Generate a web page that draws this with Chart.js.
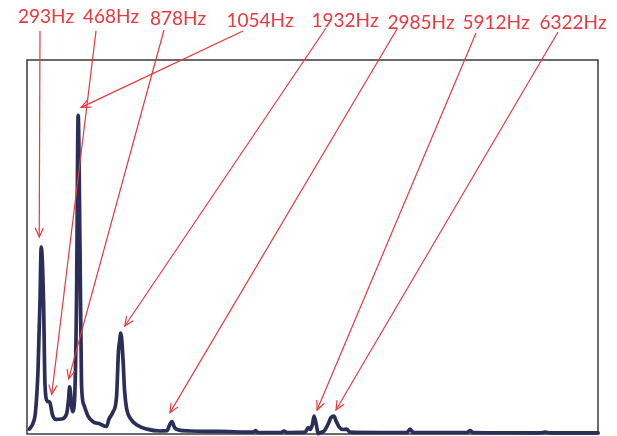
<!DOCTYPE html>
<html>
<head>
<meta charset="utf-8">
<script src="https://cdn.jsdelivr.net/npm/chart.js@4/dist/chart.umd.min.js"></script>
<style>
  html, body { margin: 0; padding: 0; background: #ffffff; }
  #wrap { width: 617px; height: 436px; }
</style>
</head>
<body>
<div id="wrap"><canvas id="spectrum" width="617" height="436"></canvas></div>
<script>
// Frequency (Hz) and relative amplitude of the measured spectrum
const freqs = [50, 124, 175, 227, 268, 293, 340, 371, 418, 468, 525, 597, 711, 814, 855, 878, 917, 937, 979, 1020,
  1054, 1092, 1123, 1174, 1257, 1360, 1504, 1638, 1689, 1772, 1844, 1885, 1906, 1932, 1978, 2009, 2050, 2122, 2266, 2472,
  2740, 2884, 2936, 2985, 3039, 3111, 3358, 3976, 4656, 4711, 4759, 5232, 5294, 5356, 5727, 5795, 5830, 5881, 5912, 5964,
  5995, 6050, 6120, 6200, 6260, 6322, 6365, 6427, 6510, 6582, 6654, 7272, 7828, 7890, 7952, 9064, 9126, 9188, 10568, 10671, 10774, 11763];
const amps = [1.3, 2.9, 5.9, 17.1, 35.8, 50.0, 35.8, 13.1, 8.8, 8.5, 5.1, 3.9, 4.0, 5.3, 9.1, 12.6, 7.7, 6.0, 9.1, 35.8,
  85.2, 49.1, 13.1, 7.7, 4.8, 3.3, 2.7, 2.0, 4.0, 5.9, 9.9, 22.4, 24.6, 27.0, 19.8, 11.7, 6.9, 4.3, 2.4, 1.3,
  0.8, 0.9, 2.4, 3.3, 1.7, 1.1, 0.8, 0.7, 0.5, 0.9, 0.4, 0.4, 0.8, 0.4, 0.5, 1.7, 1.2, 2.7, 4.8, 2.1,
  0.1, 0.4, 0.8, 2.6, 4.4, 4.8, 3.5, 1.9, 1.2, 1.3, 0.5, 0.4, 0.4, 1.3, 0.4, 0.4, 0.9, 0.4, 0.3, 0.5, 0.3, 0.3];

// Annotated peak frequencies (Hz)
const peakFreqs = [293, 468, 878, 1054, 1932, 2985, 5912, 6322];
const peakLabels = peakFreqs.map(f => f + 'Hz');

// Callout placement: label centre x, baseline y, arrow start, arrow-tip offset from the peak
const calloutLayout = [
  { tx: 46,  ty: 23, sx: 40,  sy: 31, dx: -2, dy: -10 },
  { tx: 111, ty: 23, sx: 96,  sy: 31, dx: 2,  dy: -8 },
  { tx: 178, ty: 25, sx: 164, sy: 30, dx: -1, dy: -8 },
  { tx: 260, ty: 27, sx: 243, sy: 31, dx: 3,  dy: -8 },
  { tx: 345, ty: 27, sx: 326, sy: 28, dx: 4,  dy: -7 },
  { tx: 421, ty: 29, sx: 397, sy: 29, dx: -2, dy: -9 },
  { tx: 496, ty: 29, sx: 476, sy: 33, dx: 3,  dy: -6 },
  { tx: 573, ty: 29, sx: 558, sy: 32, dx: 2,  dy: -6 }
];

const RED = '#f0353b';

const frame = {
  id: 'frame',
  beforeDatasetsDraw(chart) {
    const { ctx, chartArea: a } = chart;
    ctx.save();
    ctx.strokeStyle = '#3a3a3a';
    ctx.lineWidth = 1.5;
    ctx.strokeRect(a.left, a.top, a.right - a.left, a.bottom - a.top);
    ctx.restore();
  }
};

const callouts = {
  id: 'callouts',
  afterDatasetsDraw(chart) {
    const { ctx, scales: { x, y } } = chart;
    ctx.save();
    ctx.strokeStyle = RED;
    ctx.fillStyle = RED;
    ctx.lineWidth = 1.2;
    ctx.font = '19px Lato';
    ctx.textAlign = 'center';
    ctx.textBaseline = 'alphabetic';
    peakFreqs.forEach((f, i) => {
      const L = calloutLayout[i];
      const idx = freqs.indexOf(f);
      const px = x.getPixelForValue(f) + L.dx;
      const py = y.getPixelForValue(amps[idx]) + L.dy;
      ctx.fillText(peakLabels[i], L.tx, L.ty);
      ctx.beginPath();
      ctx.moveTo(L.sx, L.sy);
      ctx.lineTo(px, py);
      ctx.stroke();
      const ang = Math.atan2(py - L.sy, px - L.sx);
      const head = 10, spread = 0.42;
      ctx.beginPath();
      ctx.moveTo(px - head * Math.cos(ang - spread), py - head * Math.sin(ang - spread));
      ctx.lineTo(px, py);
      ctx.lineTo(px - head * Math.cos(ang + spread), py - head * Math.sin(ang + spread));
      ctx.stroke();
    });
    ctx.restore();
  }
};

new Chart(document.getElementById('spectrum'), {
  type: 'line',
  data: {
    datasets: [{
      data: freqs.map((f, i) => ({ x: f, y: amps[i] })),
      borderColor: '#2b2e58',
      borderWidth: 3.7,
      pointRadius: 0,
      cubicInterpolationMode: 'monotone',
      borderJoinStyle: 'round',
      borderCapStyle: 'round',
      fill: false,
      clip: false
    }]
  },
  options: {
    responsive: false,
    animation: false,
    events: [],
    layout: { padding: { left: 27, top: 60, right: 19, bottom: 2 } },
    plugins: { legend: { display: false }, tooltip: { enabled: false } },
    scales: {
      x: { type: 'linear', min: 0, max: 11760, display: false },
      y: { min: 0, max: 100, display: false }
    }
  },
  plugins: [frame, callouts]
});
</script>
</body>
</html>
